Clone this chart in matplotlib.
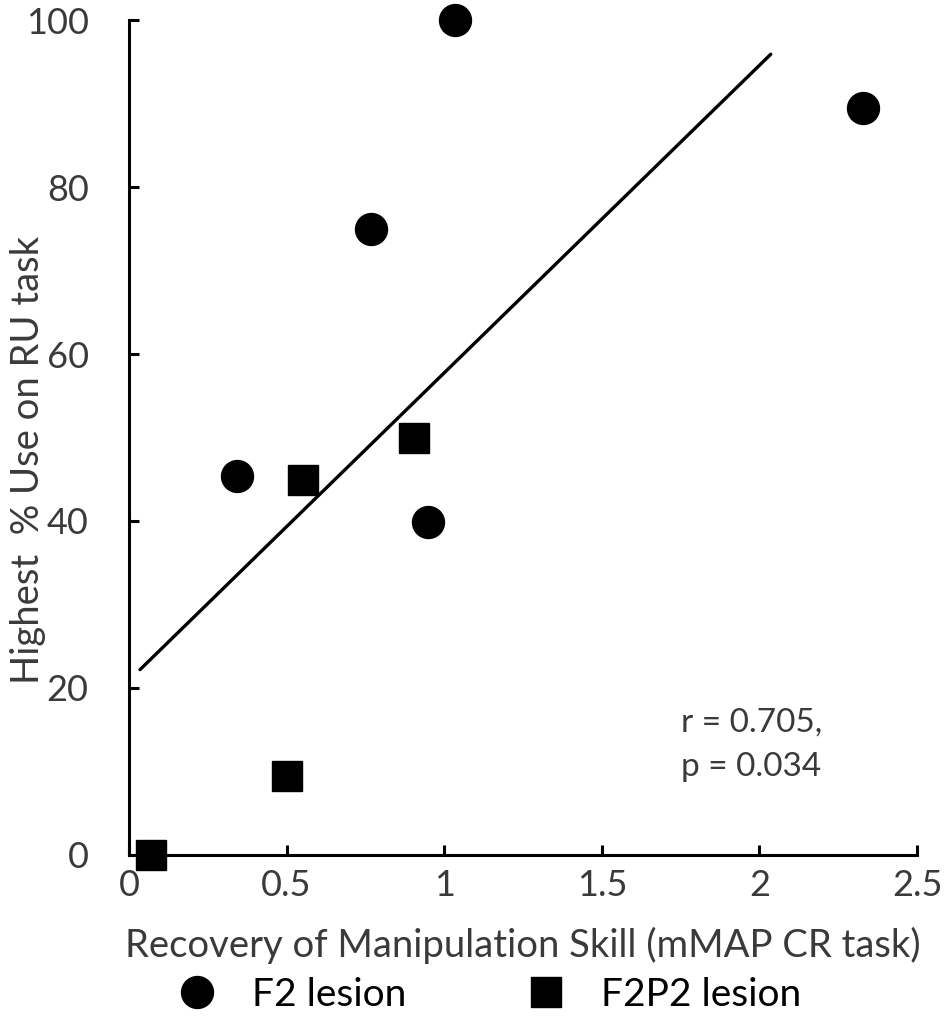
import matplotlib.pyplot as plt
from matplotlib.lines import Line2D

# values
f2_x = [1.034, 2.329, 0.768, 0.343, 0.949]
f2_y = [100.0, 89.5, 75.0, 45.4, 39.9]
f2p2_x = [0.552, 0.904, 0.501, 0.070]
f2p2_y = [44.9, 49.9, 9.5, 0.0]
trend_x = [0.035, 2.036]
trend_y = [22.2, 95.9]
x_ticks = [0, 0.5, 1, 1.5, 2, 2.5]
x_ticklabels = ["0", "0.5", "1", "1.5", "2", "2.5"]
y_ticks = [0, 20, 40, 60, 80, 100]

plt.rcParams['font.family'] = ['Lato', 'DejaVu Sans']
txtcol = '#3a3a3a'

fig = plt.figure(figsize=(9.5, 10.21), dpi=100)
ax = fig.add_axes([0.1358, 0.1626, 0.8295, 0.8178])

ax.plot(trend_x, trend_y, color='black', linewidth=2.4, solid_capstyle='round')
ax.plot(f2_x, f2_y, 'o', color='black', markersize=23, clip_on=False, label='F2 lesion')
ax.plot(f2p2_x, f2p2_y, 's', color='black', markersize=22, clip_on=False, label='F2P2 lesion')

ax.set_xlim(0, 2.5)
ax.set_ylim(0, 100)
ax.set_xticks(x_ticks)
ax.set_xticklabels(x_ticklabels)
ax.set_yticks(y_ticks)

for s in ['top', 'right']:
    ax.spines[s].set_visible(False)
for s in ['left', 'bottom']:
    ax.spines[s].set_linewidth(2.2)

ax.tick_params(axis='both', direction='in', length=7, width=2.2,
               labelsize=26, labelcolor=txtcol)
ax.tick_params(axis='y', pad=29)
ax.tick_params(axis='x', pad=10)

ax.set_xlabel('Recovery of Manipulation Skill (mMAP CR task)', fontsize=27.5,
              color=txtcol, va='center')
ax.xaxis.set_label_coords(0.5, -0.108)
ax.set_ylabel('Highest  % Use on RU task', fontsize=27.5, color=txtcol, va='center')
ax.yaxis.set_label_coords(-0.128, 0.473)

ax.text(1.75, 13.2, 'r = 0.705,\np = 0.034', fontsize=24, color=txtcol,
        ha='left', va='center', linespacing=1.6)

handles = [Line2D([], [], marker='o', linestyle='', color='black', markersize=23),
           Line2D([], [], marker='s', linestyle='', color='black', markersize=22)]
fig.legend(handles, ['F2 lesion', 'F2P2 lesion'], ncol=2, frameon=False,
           loc='center', bbox_to_anchor=(0.505, 1 - 995 / 1021), fontsize=28,
           handletextpad=0.4, columnspacing=2.6, labelcolor='black')

fig.savefig('out.png', dpi=100)
